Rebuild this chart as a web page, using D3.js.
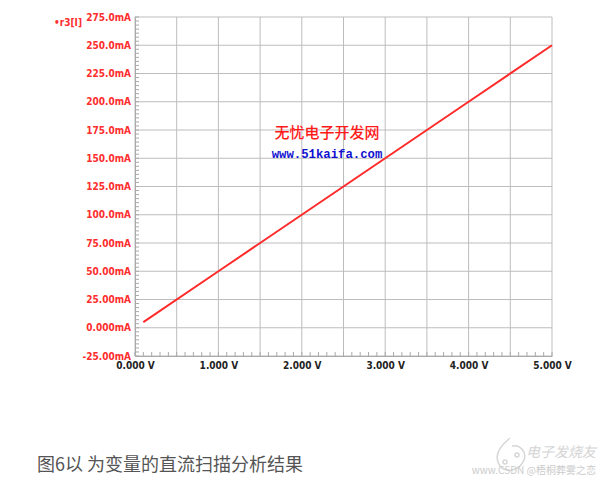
<!DOCTYPE html>
<html>
<head>
<meta charset="utf-8">
<script src="https://cdn.jsdelivr.net/npm/d3@7"></script>
<style>
  body { margin: 0; background: #fff; }
  svg { display: block; }
</style>
</head>
<body>
<script>
const width = 614;
const height = 487;

// sweep values (V, mA)
const voltage = [0.1, 1, 2, 3, 4, 5];
const current = [5, 50, 100, 150, 200, 250];

const xTicks = [0, 1, 2, 3, 4, 5];
const xTickLabels = ["0.000 V", "1.000 V", "2.000 V", "3.000 V", "4.000 V", "5.000 V"];
const yTicks = [275, 250, 225, 200, 175, 150, 125, 100, 75, 50, 25, 0, -25];
const yTickLabels = ["275.0mA", "250.0mA", "225.0mA", "200.0mA", "175.0mA", "150.0mA",
                     "125.0mA", "100.0mA", "75.00mA", "50.00mA", "25.00mA", "0.000mA", "-25.00mA"];
const xGrid = [0, 0.5, 1, 1.5, 2, 2.5, 3, 3.5, 4, 4.5, 5];

const plotLeft = 135, plotRight = 552, plotTop = 17, plotBottom = 356;

let x = d3.scaleLinear().domain([0, 5]).range([plotLeft, plotRight]);
let y = d3.scaleLinear().domain([-25, 275]).range([plotBottom, plotTop]);

let svg = d3.select("body")
  .append("svg")
    .attr("width", width)
    .attr("height", height);

const labelFont = "'Liberation Sans Narrow', 'Arial Narrow', 'DejaVu Sans Condensed', sans-serif";

// grid
svg.append("g")
  .selectAll("line")
  .data(xGrid)
  .enter().append("line")
    .attr("x1", d => x(d)).attr("x2", d => x(d))
    .attr("y1", plotTop).attr("y2", plotBottom)
    .attr("stroke", "#bdbdbd")
    .attr("stroke-width", 1);

svg.append("g")
  .selectAll("line")
  .data(yTicks)
  .enter().append("line")
    .attr("x1", plotLeft).attr("x2", plotRight)
    .attr("y1", d => y(d)).attr("y2", d => y(d))
    .attr("stroke", "#bdbdbd")
    .attr("stroke-width", 1);

// minor ticks
let xMinor = d3.range(0, 5.0001, 0.1);
svg.append("g")
  .selectAll("line")
  .data(xMinor)
  .enter().append("line")
    .attr("x1", d => x(d)).attr("x2", d => x(d))
    .attr("y1", plotBottom).attr("y2", plotBottom - 4)
    .attr("stroke", "#aaa");

let yMinor = d3.range(-25, 275.0001, 25 / 7);
svg.append("g")
  .selectAll("line")
  .data(yMinor)
  .enter().append("line")
    .attr("x1", plotLeft).attr("x2", plotLeft + 4)
    .attr("y1", d => y(d)).attr("y2", d => y(d))
    .attr("stroke", "#aaa");

// axes labels
let yAxis = d3.axisLeft(y)
  .tickValues(yTicks)
  .tickSize(0)
  .tickPadding(4)
  .tickFormat((d, i) => yTickLabels[i]);

svg.append("g")
  .attr("transform", "translate(" + plotLeft + ",0)")
  .call(yAxis)
  .call(g => g.select(".domain").attr("stroke", "#aaa"))
  .selectAll("text")
    .attr("fill", "#ff2d2d")
    .style("font-family", labelFont)
    .style("font-weight", "bold")
    .style("font-size", "10px");

let xAxis = d3.axisBottom(x)
  .tickValues(xTicks)
  .tickSize(0)
  .tickPadding(6)
  .tickFormat((d, i) => xTickLabels[i]);

svg.append("g")
  .attr("transform", "translate(0," + plotBottom + ")")
  .call(xAxis)
  .call(g => g.select(".domain").attr("stroke", "#aaa"))
  .selectAll("text")
    .attr("fill", "#222")
    .style("font-family", labelFont)
    .style("font-weight", "bold")
    .style("font-size", "10px");

// trace name
svg.append("text")
  .attr("x", 54).attr("y", 26)
  .attr("fill", "#ff2d2d")
  .style("font-family", labelFont)
  .style("font-weight", "bold")
  .style("font-size", "10px")
  .text("•r3[I]");

// watermark
svg.append("text")
  .attr("x", 327).attr("y", 138)
  .attr("text-anchor", "middle")
  .attr("fill", "#ff1a1a")
  .style("font-family", "'Noto Sans CJK SC', sans-serif")
  .style("font-size", "15px")
  .style("font-weight", "500")
  .text("无忧电子开发网");

svg.append("text")
  .attr("x", 327).attr("y", 158)
  .attr("text-anchor", "middle")
  .attr("fill", "#1010d0")
  .style("font-family", "'Liberation Mono', 'DejaVu Sans Mono', monospace")
  .style("font-weight", "bold")
  .style("font-size", "12.3px")
  .text("www.51kaifa.com");

// sweep trace
let line = d3.line()
  .x((d, i) => x(voltage[i]))
  .y((d, i) => y(current[i]));

svg.append("path")
  .datum(voltage)
  .attr("d", line)
  .attr("fill", "none")
  .attr("stroke", "#ff2a2a")
  .attr("stroke-width", 2);

// caption
svg.append("text")
  .attr("x", 37).attr("y", 471)
  .attr("fill", "#555")
  .style("font-family", "'Noto Sans CJK SC', sans-serif")
  .style("font-size", "18px")
  .text("图6以 为变量的直流扫描分析结果");

// site logo
let logo = svg.append("g").attr("fill", "none").attr("stroke", "#d6d6d6").attr("stroke-width", 1.5);
logo.append("path")
  .attr("d", "M510,438 C500,446 493,456 500,466 C507,474 520,470 524,460 C527,452 520,444 512,446");
logo.append("circle").attr("cx", 505).attr("cy", 462).attr("r", 2);
logo.append("circle").attr("cx", 517).attr("cy", 455).attr("r", 2);

svg.append("text")
  .attr("x", 526).attr("y", 457)
  .attr("fill", "#d4d4d4")
  .style("font-family", "'Noto Sans CJK SC', sans-serif")
  .style("font-style", "italic")
  .style("font-size", "14px")
  .text("电子发烧友");

svg.append("text")
  .attr("x", 596).attr("y", 474)
  .attr("text-anchor", "end")
  .attr("fill", "#cccccc")
  .style("font-family", "'Noto Sans CJK SC', sans-serif")
  .style("font-size", "10px")
  .text("www.CSDN @梧桐葬雾之恋");
</script>
</body>
</html>
